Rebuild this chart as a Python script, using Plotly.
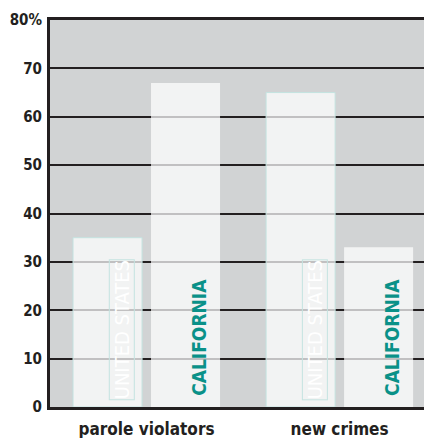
import plotly.graph_objects as go

categories = ["parole violators", "new crimes"]
series_names = ["UNITED STATES", "CALIFORNIA"]
us_values = [35, 65]
ca_values = [67, 33]
y_ticks = [0, 10, 20, 30, 40, 50, 60, 70, 80]
y_ticktext = ["0", "10", "20", "30", "40", "50", "60", "70", "80%"]

FONT = "Liberation Sans Narrow, DejaVu Sans Condensed, Arial Narrow, sans-serif"
xpos = list(range(len(categories)))

fig = go.Figure()
fig.add_trace(go.Bar(
    x=xpos, y=us_values, name=series_names[0],
    marker=dict(color="rgba(255,255,255,0.72)", line=dict(color="#c4e3e0", width=1)),
    hoverinfo="skip"))
fig.add_trace(go.Bar(
    x=xpos, y=ca_values, name=series_names[1],
    marker=dict(color="rgba(255,255,255,0.72)", line=dict(width=0)),
    hoverinfo="skip"))

slot = 0.404  # fraction of category occupied by one bar slot
for i, x in enumerate(xpos):
    fig.add_annotation(
        x=x - slot / 2, y=1.4, xref="x", yref="y", xshift=14,
        text=series_names[0], textangle=-90, showarrow=False,
        xanchor="center", yanchor="bottom",
        font=dict(family=FONT, size=20, color="#ffffff"),
        bordercolor="#c4e3e0", borderwidth=1, borderpad=0)
    fig.add_annotation(
        x=x + slot / 2, y=1.9, xref="x", yref="y", xshift=14,
        text=series_names[1], textangle=-90, showarrow=False,
        xanchor="center", yanchor="bottom",
        font=dict(family=FONT, size=19, color="#0a9188", weight="bold"))

fig.update_layout(
    width=432, height=438,
    margin=dict(l=42, r=0, t=12, b=39, autoexpand=False),
    paper_bgcolor="#ffffff", plot_bgcolor="#d1d3d4",
    barmode="group", bargap=0.192, bargroupgap=0.115,
    showlegend=False,
    font=dict(family=FONT, color="#231f20"),
)
fig.update_xaxes(
    range=[-0.5, 1.52], tickvals=xpos, ticktext=categories,
    showgrid=False, zeroline=False, automargin=False,
    showline=True, linecolor="#231f20", linewidth=3, mirror=True,
    ticks="outside", ticklen=5, tickcolor="rgba(0,0,0,0)",
    tickfont=dict(family=FONT, size=17, color="#231f20", weight="bold"),
)
fig.update_yaxes(
    range=[0, 80], tickvals=y_ticks, ticktext=y_ticktext,
    showgrid=True, gridcolor="#231f20", gridwidth=2,
    zeroline=False, automargin=False,
    showline=True, linecolor="#231f20", linewidth=3,
    ticks="outside", ticklen=2, tickcolor="rgba(0,0,0,0)",
    tickfont=dict(family=FONT, size=15, color="#231f20", weight="bold"),
)

fig.write_html("out.html")
